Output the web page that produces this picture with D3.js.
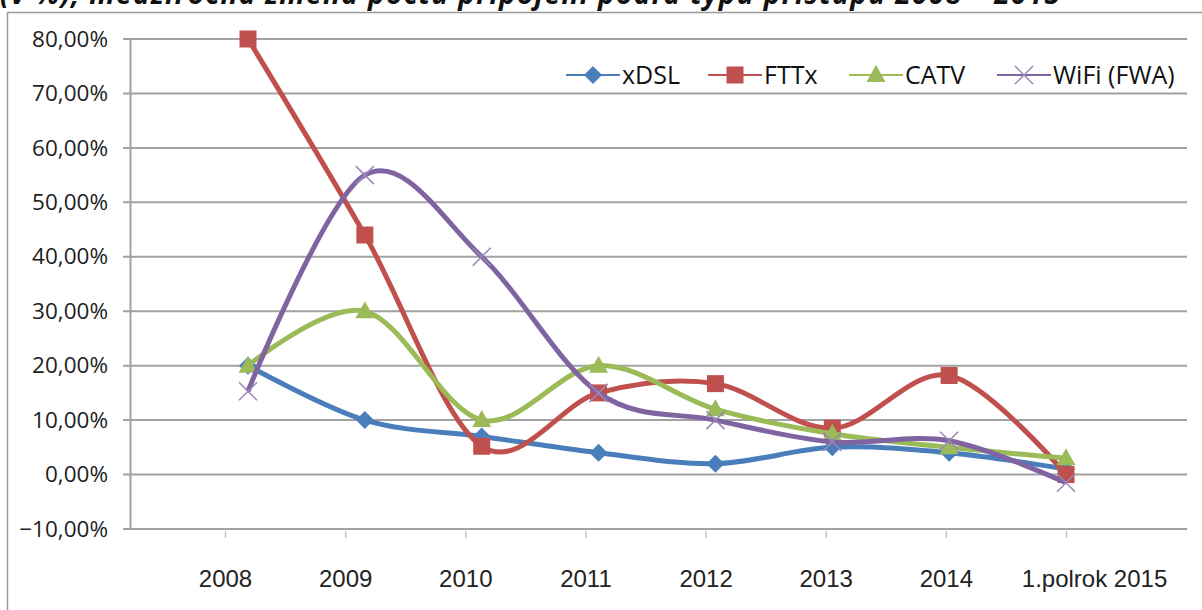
<!DOCTYPE html>
<html><head><meta charset="utf-8">
<script src="https://cdn.jsdelivr.net/npm/d3@7"></script>
<style>
html,body{margin:0;padding:0;background:#fff;overflow:hidden}
svg{display:block}
</style></head>
<body>
<svg id="c" width="1202" height="610"></svg>
<script>
const categories = ["2008","2009","2010","2011","2012","2013","2014","1.polrok 2015"];
const xdsl = [20, 10, 7, 4, 2, 5, 4, 1];
const fttx = [80, 44, 5.2, 15, 16.7, 8.5, 18.2, 0];
const catv = [20, 30, 10, 20, 12, 7.5, 5, 3];
const wifi = [15.3, 55, 40, 15, 10, 6, 6.2, -1.5];
const yTicks = [-10, 0, 10, 20, 30, 40, 50, 60, 70, 80];
const seriesNames = ["xDSL", "FTTx", "CATV", "WiFi (FWA)"];
const titleText = "(v %), medziročná zmena počtu pripojení podľa typu prístupu 2008 – 2015";

const series = [
  {name: seriesNames[0], values: xdsl, color: "#4a7ebb", marker: "diamond"},
  {name: seriesNames[1], values: fttx, color: "#c0504d", marker: "square"},
  {name: seriesNames[2], values: catv, color: "#9bbb59", marker: "triangle"},
  {name: seriesNames[3], values: wifi, color: "#8064a2", marker: "x"}
];

const svg = d3.select("#c");

// clipped title line at the very top (only its lower part is visible, as in the source)
svg.append("text").attr("x", 0).attr("y", 4)
  .attr("font-family", "'Open Sans', sans-serif").attr("font-size", 28)
  .attr("font-style", "italic").attr("font-weight", "bold").attr("fill", "#111")
  .attr("textLength", 1060).attr("lengthAdjust", "spacing")
  .text(titleText);

// chart border
svg.append("rect").attr("x", 7.5).attr("y", 12.5).attr("width", 1220).attr("height", 640)
  .attr("fill", "#fff").attr("stroke", "#9a9a9a").attr("stroke-width", 1.5);

const y = d3.scaleLinear().domain([-10, 80]).range([529, 39]);
const xPts = d3.scalePoint().domain(categories).range([248, 1066]);
const xLab = d3.scalePoint().domain(categories).range([225, 1066]);

// gridlines
svg.append("g").selectAll("line").data(yTicks).join("line")
  .attr("x1", 123).attr("x2", 1187)
  .attr("y1", d => y(d)).attr("y2", d => y(d))
  .attr("stroke", "#a2a2a2").attr("stroke-width", 2);

// y axis
const yAxis = d3.axisLeft(y).tickValues(yTicks).tickSize(0).tickPadding(22)
  .tickFormat(d => d3.format(".2f")(d).replace(".", ",") + "%");
const gy = svg.append("g").attr("transform", "translate(130,0)").call(yAxis);
gy.select(".domain").attr("stroke", "#a2a2a2").attr("stroke-width", 2);
gy.selectAll("text").attr("font-family", "'Open Sans', sans-serif").attr("font-size", 22.5).attr("fill", "#1e1e1e");

// x axis (faint ticks below the -10% line)
const xAxis = d3.axisBottom(xLab).tickSize(7).tickPadding(0);
const gx = svg.append("g").attr("transform", "translate(0,531)").call(xAxis);
gx.select(".domain").remove();
gx.selectAll(".tick line").attr("stroke", "#c4c4c4").attr("stroke-width", 1.5);
gx.selectAll("text").attr("y", 56).attr("dy", 0).attr("font-family", "'Liberation Sans', Arial, sans-serif")
  .attr("font-size", 24).attr("fill", "#222");
gx.selectAll(".tick").filter(d => d === categories[categories.length - 1]).select("text").attr("dx", 28);

// lines
const line = d3.line().x((d, i) => xPts(categories[i])).y(d => y(d)).curve(d3.curveCatmullRom.alpha(0));

function drawMarker(g, type, color, cx, cy) {
  if (type === "diamond") {
    g.append("path").attr("d", `M${cx},${cy-9}L${cx+9},${cy}L${cx},${cy+9}L${cx-9},${cy}Z`).attr("fill", color);
  } else if (type === "square") {
    g.append("rect").attr("x", cx-8.5).attr("y", cy-8.5).attr("width", 17).attr("height", 17).attr("fill", color);
  } else if (type === "triangle") {
    g.append("path").attr("d", `M${cx},${cy-10}L${cx+9.5},${cy+7}L${cx-9.5},${cy+7}Z`).attr("fill", color);
  } else {
    g.append("path").attr("d", `M${cx-9},${cy-9}L${cx+9},${cy+9}M${cx+9},${cy-9}L${cx-9},${cy+9}`)
      .attr("stroke", "#9a86b8").attr("stroke-width", 1.5).attr("fill", "none");
  }
}

series.forEach(s => {
  const g = svg.append("g");
  g.append("path").attr("d", line(s.values)).attr("fill", "none")
    .attr("stroke", s.color).attr("stroke-width", 5).attr("stroke-linejoin", "round");
  s.values.forEach((v, i) => drawMarker(g, s.marker, s.color, xPts(categories[i]), y(v)));
});

// legend
const legendX = [566, 708, 849, 997];
const legendY = 75;
series.forEach((s, i) => {
  const g = svg.append("g");
  const lx = legendX[i];
  g.append("line").attr("x1", lx).attr("x2", lx + 54).attr("y1", legendY).attr("y2", legendY)
    .attr("stroke", s.color).attr("stroke-width", 2);
  drawMarker(g, s.marker, s.color, lx + 27, legendY);
  g.append("text").attr("x", lx + 56).attr("y", legendY + 9)
    .attr("font-family", "'Open Sans', sans-serif").attr("font-size", 25).attr("fill", "#111")
    .text(s.name);
});
</script>
</body></html>
